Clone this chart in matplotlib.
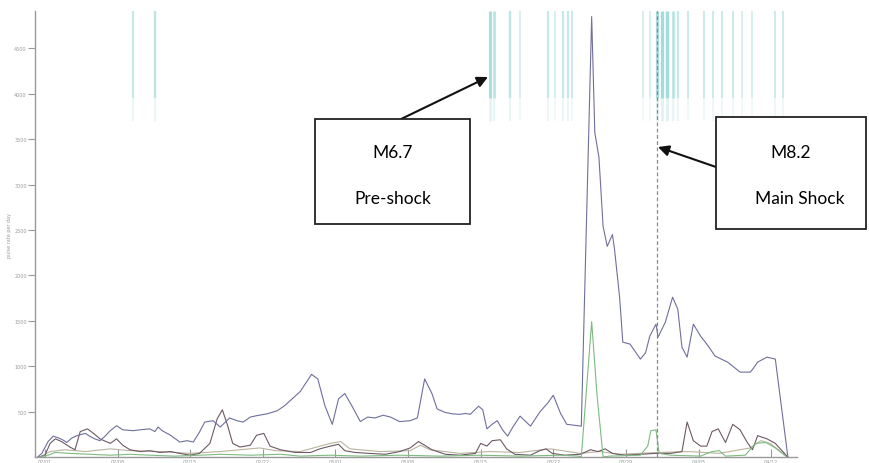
import numpy as np
import matplotlib
matplotlib.use("Agg")
import matplotlib.pyplot as plt
from matplotlib.patches import Rectangle

# days counted from 2014-02-01
tick_days = [0, 7, 14, 21, 28, 35, 42, 49, 56, 63, 70]
tick_labels = ["02/01", "02/08", "02/15", "02/22", "03/01", "03/08",
               "03/15", "03/22", "03/29", "04/05", "04/12"]
y_ticks = [500, 1000, 1500, 2000, 2500, 3000, 3500, 4000, 4500]
main_shock_day = 58.95

purple_days = [-0.7, -0.3, 0.3, 0.8, 1.3, 1.7, 2.1, 2.6, 3.2, 3.9, 4.3, 4.8, 5.3, 5.8,
               6.3, 6.9, 7.5, 8.5, 9.2, 10.1, 10.6, 10.9, 11.3, 12.1, 13.0, 13.7, 14.3,
               14.9, 15.4, 16.2, 16.9, 17.8, 18.5, 19.1, 19.8, 20.4, 21.4, 22.4, 23.1,
               24.6, 25.7, 26.3, 27.0, 27.7, 28.3, 28.9, 29.6, 30.4, 31.1, 31.8, 32.6,
               33.3, 34.2, 35.2, 35.9, 36.6, 37.3, 37.8, 38.6, 39.3, 40.0, 40.5, 41.0,
               41.8, 42.2, 42.6, 43.1, 43.6, 44.1, 44.6, 45.1, 45.8, 46.8, 47.7, 48.5,
               49.0, 49.7, 50.3, 51.7, 52.7, 53.0, 53.4, 53.8, 54.2, 54.7, 54.9, 55.4,
               55.7, 56.4, 57.4, 57.9, 58.3, 58.9, 59.1, 59.8, 60.5, 61.0, 61.4, 61.9,
               62.5, 63.2, 63.8, 64.6, 65.8, 66.3, 67.0, 68.0, 68.3, 68.7, 69.6, 70.4, 71.6]
purple_vals = [0, 40, 170, 230, 210, 190, 160, 210, 240, 260, 230, 200, 180, 230,
               290, 345, 300, 290, 300, 310, 280, 330, 290, 240, 165, 180, 165,
               275, 385, 400, 330, 430, 400, 385, 440, 455, 475, 510, 565,
               720, 910, 860, 560, 360, 640, 700, 560, 390, 440, 430, 460,
               440, 390, 400, 430, 860, 700, 530, 490, 475, 470, 480, 470,
               560, 520, 310, 360, 400, 300, 230, 330, 450, 340, 495, 600,
               680, 480, 360, 340, 4850, 3575, 3300, 2540, 2320, 2450, 2290, 1750,
               1265, 1243, 1078, 1150, 1331, 1463, 1320, 1485, 1760, 1628, 1210, 1100,
               1463, 1331, 1243, 1111, 1045, 1000, 935, 935, 980, 1045, 1100, 1078, 10]

maroon_days = [-0.5, 0.0, 0.5, 1.0, 1.6, 2.4, 2.9, 3.4, 4.1, 4.8, 5.3, 6.3, 6.9, 7.5,
               8.2, 9.2, 10.1, 11.1, 12.1, 13.0, 14.0, 14.9, 15.9, 16.6, 17.1, 17.6,
               18.1, 18.8, 19.8, 20.4, 21.1, 21.7, 22.7, 24.1, 25.6, 26.5, 27.5, 28.3,
               28.9, 29.9, 31.3, 32.8, 34.2, 35.2, 36.0, 36.6, 37.3, 38.6, 40.0, 41.5,
               42.0, 42.6, 43.1, 43.9, 44.5, 45.3, 46.8, 47.7, 48.3, 48.9, 50.1, 51.6,
               52.6, 53.3, 54.0, 54.7, 55.9, 57.4, 58.8, 60.3, 61.4, 61.9, 62.5, 63.2,
               63.8, 64.3, 64.9, 65.6, 66.3, 67.0, 67.7, 68.2, 68.7, 69.6, 70.4, 71.6]
maroon_vals = [0, 20, 150, 200, 170, 110, 80, 280, 310, 250, 200, 150, 200, 130,
               80, 60, 70, 50, 60, 40, 20, 40, 150, 420, 520, 350,
               150, 110, 130, 240, 260, 120, 80, 50, 50, 90, 120, 140,
               70, 50, 40, 30, 60, 100, 170, 130, 80, 30, 20, 40,
               150, 120, 180, 190, 90, 30, 20, 70, 90, 40, 20, 30,
               80, 60, 90, 40, 20, 30, 40, 40, 60, 385, 180, 120,
               120, 280, 310, 160, 360, 300, 160, 80, 235, 200, 150, 0]

green_days = [-0.5, 0.3, 1.0, 2.4, 4.3, 6.3, 8.2, 10.1, 12.5, 14.9, 16.9, 19.8, 22.7,
              24.6, 27.5, 30.4, 34.2, 38.1, 41.9, 45.8, 49.7, 51.4, 51.7, 52.7, 53.2,
              53.8, 54.4, 57.4, 58.1, 58.4, 58.9, 59.2, 60.3, 63.2, 64.3, 65.0, 65.6,
              67.5, 68.5, 69.5, 70.4, 71.4]
green_vals = [0, 20, 50, 40, 30, 20, 30, 20, 10, 20, 30, 20, 30,
              10, 20, 10, 20, 10, 20, 10, 20, 10, 0, 1490, 700,
              0, 10, 20, 120, 290, 300, 40, 20, 10, 60, 70, 10,
              20, 150, 160, 100, 10]

tan_days = [-0.5, 0.5, 1.9, 3.9, 6.3, 8.2, 11.1, 14.0, 16.9, 18.8, 20.7, 22.2, 24.6,
            27.5, 28.5, 29.4, 32.3, 35.2, 36.2, 37.1, 40.0, 42.9, 45.8, 48.7, 51.6,
            53.5, 55.4, 59.2, 62.1, 65.0, 68.0, 69.0, 69.9, 70.7, 71.6]
tan_vals = [0, 60, 80, 60, 90, 70, 60, 40, 60, 80, 100, 70, 60,
            150, 170, 90, 60, 70, 130, 80, 40, 60, 50, 90, 40,
            60, 30, 50, 60, 40, 100, 180, 150, 80, 0]

# seismic events shown as bars at the top (day, relative strength)
quake_days = [8.5, 10.6, 42.9, 43.3, 44.8, 45.8, 48.5, 49.2, 49.9, 50.4, 50.8,
              57.6, 58.3, 59.0, 59.5, 60.0, 60.5, 61.0, 62.0, 63.5, 64.4, 65.3,
              66.3, 67.2, 68.2, 70.4, 71.1]
quake_size = [0.5, 0.6, 0.9, 0.7, 0.6, 0.3, 0.5, 0.3, 0.5, 0.5, 0.4,
              0.3, 0.3, 0.9, 1.0, 1.0, 0.7, 0.5, 0.4, 0.4, 0.4, 0.4,
              0.4, 0.3, 0.3, 0.4, 0.4]

fig = plt.figure(figsize=(8.7, 4.64), dpi=100)
ax = fig.add_axes([0.0402, 0.0129, 0.876, 0.961])

for d, s in zip(quake_days, quake_size):
    ax.vlines(d, 3950, 4910, color="#86cfcf", alpha=0.2 + 0.55 * s, lw=0.8 + 1.6 * s, zorder=1)
    ax.vlines(d, 3700, 3950, color="#c2e6e6", alpha=0.15 + 0.35 * s, lw=0.8 + 1.2 * s, zorder=1)

ax.plot(tan_days, tan_vals, color="#b9b39e", lw=0.8, zorder=2)
ax.plot(maroon_days, maroon_vals, color="#6e5866", lw=0.8, zorder=3)
ax.plot(green_days, green_vals, color="#7dbb80", lw=0.8, zorder=3)
ax.plot(purple_days, purple_vals, color="#6f6f9e", lw=0.8, zorder=4)

ax.axvline(main_shock_day, color="#8a8a8a", lw=0.9, ls=(0, (3, 2)), zorder=5)

ax.set_xlim(-0.96, 72.5)
ax.set_ylim(0, 4910)
for side in ["top", "right"]:
    ax.spines[side].set_visible(False)
for side in ["left", "bottom"]:
    ax.spines[side].set_color("#9a9a9a")
    ax.spines[side].set_linewidth(1.0)

ax.set_yticks(y_ticks)
ax.set_yticklabels([str(v) for v in y_ticks])
ax.set_xticks(tick_days)
ax.set_xticklabels(tick_labels)
ax.tick_params(axis="y", direction="out", length=5, width=0.8, color="#9a9a9a",
               labelsize=3.5, labelcolor="#9a9a9a", pad=1)
ax.tick_params(axis="x", direction="in", length=6, width=0.8, color="#9a9a9a",
               labelsize=3.5, labelcolor="#9a9a9a", pad=1)
ax.set_ylabel("pulse rate per day", fontsize=3.5, color="#9a9a9a")
ax.yaxis.set_label_coords(-0.03, 0.5)

# annotation boxes and arrows (figure coordinates)
W, H = 870, 464


def fx(px):
    return px / W


def fy(py):
    return 1 - py / H


for x0, y0, x1, y1 in [(315, 120, 470, 225), (716, 118, 866, 230)]:
    fig.add_artist(Rectangle((fx(x0), fy(y1)), fx(x1) - fx(x0), fy(y0) - fy(y1),
                             transform=fig.transFigure, fill=True, facecolor="white",
                             edgecolor="#222222", lw=1.3, zorder=10))

fs = 12.5
fam = ["Lato", "DejaVu Sans"]
fig.text(fx(393), fy(153), "M6.7", ha="center", va="center", fontsize=fs, family=fam, zorder=11)
fig.text(fx(393), fy(199), "Pre-shock", ha="center", va="center", fontsize=fs, family=fam, zorder=11)
fig.text(fx(791), fy(153), "M8.2", ha="center", va="center", fontsize=fs, family=fam, zorder=11)
fig.text(fx(800), fy(199), "Main Shock", ha="center", va="center", fontsize=fs, family=fam, zorder=11)

arrow = dict(arrowstyle="-|>", lw=1.5, color="#111111", mutation_scale=16, shrinkA=0, shrinkB=0)
ax.annotate("", xy=(fx(488), fy(78)), xytext=(fx(397), fy(122)),
            xycoords="figure fraction", textcoords="figure fraction", arrowprops=arrow)
ax.annotate("", xy=(fx(658), fy(148)), xytext=(fx(716), fy(168)),
            xycoords="figure fraction", textcoords="figure fraction", arrowprops=arrow)

fig.savefig("out.png", dpi=100)
